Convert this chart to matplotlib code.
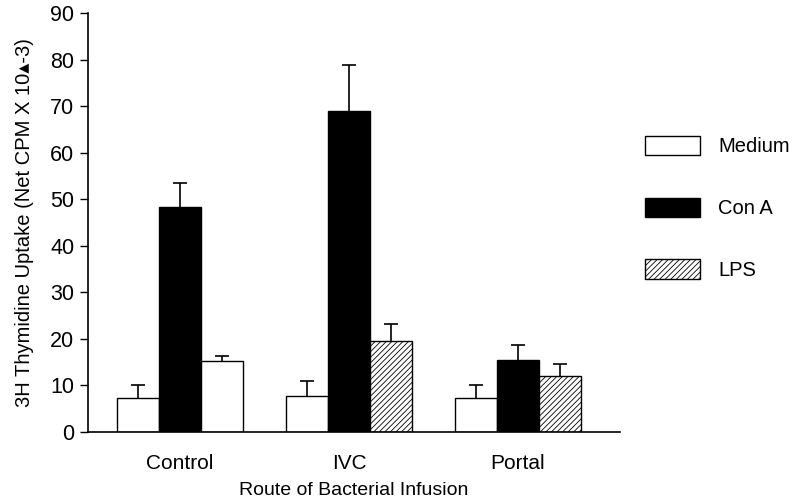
import matplotlib
matplotlib.use("Agg")
import matplotlib.pyplot as plt
import matplotlib.patches as mpatches
import numpy as np

plt.rcParams['font.family'] = ['Liberation Sans', 'DejaVu Sans']
plt.rcParams['hatch.linewidth'] = 0.6

groups = ['Control', 'IVC', 'Portal']
series = ['Medium', 'Con A', 'LPS']
medium = [7.3, 7.7, 7.3]
medium_err = [2.8, 3.2, 2.8]
cona = [48.3, 69.0, 15.5]
cona_err = [5.2, 9.8, 3.2]
lps = [15.2, 19.5, 12.0]
lps_err = [1.2, 3.7, 2.6]

fig = plt.figure(figsize=(7.95, 5.01), dpi=100)
ax = fig.add_axes([0.111, 0.138, 0.669, 0.836])

x = np.arange(len(groups))
w = 0.249
zeros = [0, 0, 0]
ekw = dict(elinewidth=1.2, capthick=1.2)


def drop_low_caps(bars, heights):
    # only the upper whisker is shown, hide the cap sitting on the bar top
    for cl in bars.errorbar.lines[1]:
        if np.allclose(cl.get_ydata(), heights):
            cl.set_visible(False)


b1 = ax.bar(x - w, medium, w, color='white', edgecolor='black', linewidth=1.0,
            yerr=[zeros, medium_err], capsize=5, error_kw=ekw)
b2 = ax.bar(x, cona, w, color='black', edgecolor='black', linewidth=1.0,
            yerr=[zeros, cona_err], capsize=5, error_kw=ekw)
b3 = ax.bar(x + w, lps, w, color='white', edgecolor='black', linewidth=1.0,
            hatch='//////', yerr=[zeros, lps_err], capsize=5, error_kw=ekw)
# control LPS bar is printed almost blank (stippled) in the original
b3.patches[0].set_hatch('')
drop_low_caps(b1, medium)
drop_low_caps(b2, cona)
drop_low_caps(b3, lps)

ax.set_xlim(-0.544, 2.604)
ax.set_ylim(0, 90)
ax.set_yticks(range(0, 91, 10))
ax.set_xticks(x)
ax.set_xticklabels(groups)
ax.tick_params(axis='x', length=0, pad=16, labelsize=15)
ax.tick_params(axis='y', length=6, width=1, labelsize=15.5, pad=4)
for s in ['top', 'right']:
    ax.spines[s].set_visible(False)
ax.spines['left'].set_linewidth(1.2)
ax.spines['bottom'].set_linewidth(1.2)

ax.set_xlabel('Route of Bacterial Infusion', fontsize=14, labelpad=6.5)
ax.set_ylabel('3H Thymidine Uptake (Net CPM X 10\u25b4-3)', fontsize=14.5, labelpad=12)

handles = [
    mpatches.Patch(facecolor='white', edgecolor='black', linewidth=1.0),
    mpatches.Patch(facecolor='black', edgecolor='black', linewidth=1.0),
    mpatches.Patch(facecolor='white', edgecolor='black', linewidth=1.0, hatch='//////'),
]
fig.legend(handles=handles, labels=series, loc='upper left',
           bbox_to_anchor=(0.789, 0.765), frameon=False, fontsize=14.5,
           handlelength=2.7, handleheight=1.1, labelspacing=2.05, handletextpad=0.9)

fig.savefig('out.png', dpi=100)
